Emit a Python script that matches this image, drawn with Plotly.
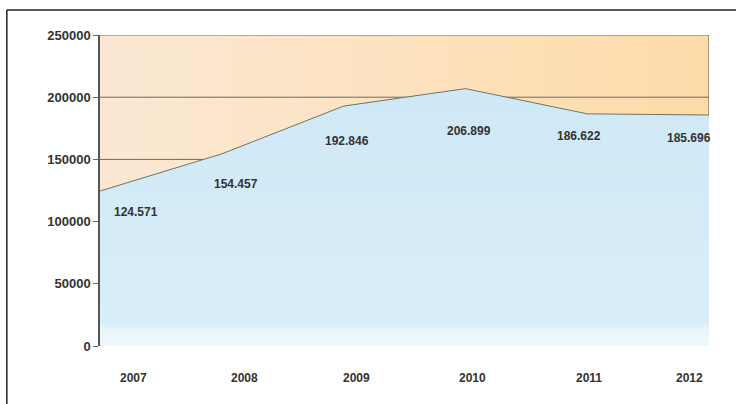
import plotly.graph_objects as go

years = [2007, 2008, 2009, 2010, 2011, 2012]
values = [124571, 154457, 192846, 206899, 186622, 185696]
value_labels = ["124.571", "154.457", "192.846", "206.899", "186.622", "185.696"]
y_ticks = [0, 50000, 100000, 150000, 200000, 250000]
grid_levels = [150000, 200000, 250000]

# label offsets (pixels) for value labels and year labels
val_dx = [36, 14, 3, 4, -8, -20]
val_dy = [-21, -30, -35, -42, -22, -23]
year_dx = [33, 23, 13, 7, 2, -20]

YMAX = 250000
FONT = "Liberation Sans, Arial"
fig = go.Figure()

# orange background region (above the data line)
fig.add_trace(go.Scatter(
    x=years, y=[YMAX] * len(years), mode="none", fill="tozeroy",
    fillgradient=dict(type="horizontal", start=years[0], stop=years[-1],
                      colorscale=[[0, "#fbe8d4"], [0.5, "#fde2bf"], [1, "#fddba8"]]),
    hoverinfo="skip", showlegend=False))

# grid lines drawn over orange, under blue
for g in grid_levels:
    fig.add_trace(go.Scatter(x=[years[0], years[-1]], y=[g, g], mode="lines",
                             line=dict(color="#6f6a60", width=1),
                             hoverinfo="skip", showlegend=False))
# right edge line of the orange region
fig.add_trace(go.Scatter(x=[years[-1], years[-1]], y=[0, YMAX], mode="lines",
                         line=dict(color="#6f6a60", width=1.2),
                         hoverinfo="skip", showlegend=False))

# blue area
fig.add_trace(go.Scatter(
    x=years, y=values, mode="lines", fill="tozeroy",
    line=dict(color="#6d7660", width=1),
    fillgradient=dict(type="vertical", start=0, stop=max(values),
                      colorscale=[[0, "#eef8fc"], [0.06, "#eaf6fb"], [0.09, "#d9eef8"],
                                  [0.6, "#d3ebf7"], [1, "#cfe8f5"]]),
    hoverinfo="skip", showlegend=False))

annotations = []
for x, v, t, dx, dy in zip(years, values, value_labels, val_dx, val_dy):
    annotations.append(dict(x=x, y=v, text=f"<b>{t}</b>", showarrow=False, xshift=dx, yshift=dy,
                            xanchor="center", yanchor="middle",
                            font=dict(family=FONT, size=12, color="#333333")))
for x, dx in zip(years, year_dx):
    annotations.append(dict(x=x, y=0, yref="paper", text=f"<b>{x}</b>", showarrow=False,
                            xshift=dx, yshift=-32, xanchor="center", yanchor="middle",
                            font=dict(family=FONT, size=12, color="#333333")))

fig.update_layout(
    width=736, height=404,
    margin=dict(l=100, r=27, t=35, b=58),
    paper_bgcolor="white", plot_bgcolor="white",
    annotations=annotations,
    xaxis=dict(range=[years[0], years[-1]], showgrid=False, zeroline=False,
               showticklabels=False, showline=False, ticks=""),
    yaxis=dict(range=[0, YMAX], tickvals=y_ticks,
               ticktext=[f"<b>{v}</b>" for v in y_ticks],
               showgrid=False, zeroline=False, showline=True,
               linecolor="#555555", linewidth=1.5, ticks="outside", ticklen=5,
               tickcolor="#666666", tickwidth=1,
               tickfont=dict(family=FONT, size=13, color="#333333")),
    shapes=[
        dict(type="line", xref="paper", yref="paper", x0=-0.153, x1=1.05, y0=1.08, y1=1.08,
             line=dict(color="#222222", width=1.5)),
        dict(type="line", xref="paper", yref="paper", x0=-0.153, x1=-0.153, y0=1.08, y1=-0.2,
             line=dict(color="#222222", width=1.5)),
    ],
)

fig.write_html("out.html", config={"displayModeBar": False},
               post_script="document.body.style.margin='0';")
